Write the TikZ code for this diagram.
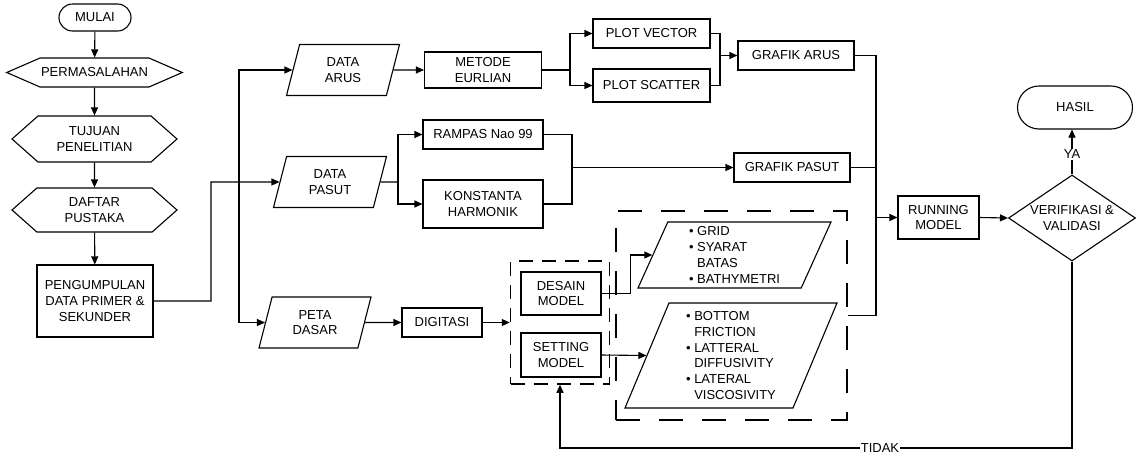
\documentclass[tikz,border=0pt]{standalone}
\usepackage{fontspec}
\setmainfont{Liberation Sans}
\usetikzlibrary{arrows.meta,shapes.geometric,shapes.misc,shapes.symbols}

\begin{document}
\begin{tikzpicture}[x=1pt,y=-1pt,line width=1.1pt,
  font=\fontsize{13}{15.8}\selectfont,
  every node/.style={align=center,inner sep=1pt},
  arr/.style={-{Triangle[length=8pt,width=7pt]}},
  proses/.style={draw,rectangle,minimum width=117pt,minimum height=29pt},
  terminal/.style={draw,rounded rectangle,minimum height=27pt},
  hexa/.style={draw,signal,signal to=west and east,signal pointer angle=83,
    minimum width=165pt,minimum height=46pt},
  dataio/.style={draw,trapezium,trapezium left angle=64,trapezium right angle=116,
    trapezium stretches body,minimum width=113pt,minimum height=51pt},
  keputusan/.style={draw,diamond,aspect=1.5,inner sep=0pt,minimum width=127pt,minimum height=86pt},
  putus/.style={draw,line width=1.5pt,dash pattern=on 14pt off 9pt},
  putusbesar/.style={draw,line width=1.5pt,dash pattern=on 24pt off 19pt}]
  \useasboundingbox (0,0) rectangle (1136,456);

  \node[terminal,minimum width=74pt] (mulai) at (95,17.5) {MULAI};
  \node[hexa,signal pointer angle=47,minimum width=175pt,minimum height=29pt] (masalah) at (94.5,72.5) {PERMASALAHAN};
  \node[hexa] (tujuan) at (94.5,139) {TUJUAN\\PENELITIAN};
  \node[hexa,minimum height=44pt] (pustaka) at (94.5,210) {DAFTAR\\PUSTAKA};
  \node[proses,minimum width=116pt,minimum height=72pt] (kumpul) at (95,301) {PENGUMPULAN\\DATA PRIMER \&\\SEKUNDER};

  \node[dataio] (arus) at (343,70) {DATA\\ARUS};
  \node[dataio] (pasut) at (330,182) {DATA\\PASUT};
  \node[dataio,minimum width=112pt] (peta) at (315,322.5) {PETA\\DASAR};

  \node[proses,minimum height=36pt] (eurlian) at (483,70) {METODE\\EURLIAN};
  \node[proses,minimum width=120pt] (rampas) at (483,134.5) {RAMPAS Nao 99};
  \node[proses,minimum width=120pt,minimum height=48pt] (konstanta) at (483,204) {KONSTANTA\\HARMONIK};
  \node[proses] (vector) at (651.5,33.5) {PLOT VECTOR};
  \node[proses,minimum height=33pt] (scatter) at (651.5,85.5) {PLOT SCATTER};
  \node[proses,minimum width=116pt] (gArus) at (796,55.5) {GRAFIK ARUS};
  \node[proses,minimum width=116pt] (gPasut) at (792,167.5) {GRAFIK PASUT};
  \node[proses,minimum width=80pt] (digitasi) at (442,322.5) {DIGITASI};

  \node[putus,minimum width=99pt,minimum height=123pt] (grup) at (560,322.5) {};
  \node[proses,minimum width=80pt,minimum height=43pt] (desain) at (561,293.5) {DESAIN\\MODEL};
  \node[proses,minimum width=80pt,minimum height=44pt] (setting) at (561,355) {SETTING\\MODEL};

  \node[putusbesar,minimum width=231pt,minimum height=209pt] (luar) at (731.5,315.5) {};
  \node[dataio,trapezium left angle=63,trapezium right angle=117,minimum width=193pt,
    minimum height=66pt,align=left] (grid) at (734.5,255)
    {\textbullet\ GRID\\\textbullet\ SYARAT\\\phantom{\textbullet\ }BATAS\\\textbullet\ BATHYMETRI};
  \node[dataio,minimum width=212pt,minimum height=105pt,align=left] (friksi) at (731,355.5)
    {\textbullet\ BOTTOM\\\phantom{\textbullet\ }FRICTION\\\textbullet\ LATTERAL\\
     \phantom{\textbullet\ }DIFFUSIVITY\\\textbullet\ LATERAL\\\phantom{\textbullet\ }VISCOSIVITY};

  \node[proses,minimum width=81pt,minimum height=43pt] (running) at (938.5,217.5) {RUNNING\\MODEL};
  \node[keputusan] (verif) at (1072,218) {VERIFIKASI \&\\VALIDASI};
  \node[terminal,minimum width=117pt,minimum height=43pt] (hasil) at (1075,107.5) {HASIL};

  \draw[arr] (mulai) -- (masalah);
  \draw[arr] (masalah) -- (tujuan);
  \draw[arr] (tujuan) -- (pustaka);
  \draw[arr] (pustaka) -- (kumpul);

  \coordinate (ja) at (211,182);
  \coordinate (jb) at (239,182);
  \draw[arr] (kumpul.east) -| (ja) -- (pasut.west);
  \draw[arr] (jb) |- (arus.west);
  \draw[arr] (jb) |- (peta.west);

  \draw[arr] (arus.east) -- (eurlian.west);
  \coordinate (jc) at (570,70);
  \draw (eurlian.east) -- (jc);
  \draw[arr] (jc) |- (vector.west);
  \draw[arr] (jc) |- (scatter.west);
  \coordinate (jd) at (720,55.5);
  \draw (vector.east) -| (jd) |- (scatter.east);
  \draw[arr] (jd) -- (gArus.west);

  \coordinate (je) at (398,182);
  \draw (pasut.east) -- (je);
  \draw[arr] (je) |- (rampas.west);
  \draw[arr] (je) |- (konstanta.west);
  \coordinate (jf) at (572,167.5);
  \draw (rampas.east) -| (jf) |- (konstanta.east);
  \draw[arr] (jf) -- (gPasut.west);

  \draw[arr] (peta.east) -- (digitasi.west);
  \draw[arr] (digitasi.east) -- (grup.west);
  \draw[arr] (desain.east) -- ++(29,0) |- (grid.west);
  \draw[arr] (setting.east) -- (friksi.west);

  \coordinate (jg) at (876,217.5);
  \draw (gArus.east) -| (jg);
  \draw (gPasut.east) -- (gPasut.east -| jg);
  \draw (luar.east) -| (jg);
  \draw[arr] (jg) -- (running.west);
  \draw[arr] (running.east) -- (verif.west);
  \draw[arr] (verif.north) -- node[pos=0.45,fill=white]{YA} (verif.north |- hasil.south);

  \coordinate (tidaka) at (1072,448);
  \coordinate (tidakb) at (560,448);
  \draw[arr] (verif.south) -- (tidaka) -- node[pos=0.375,fill=white]{TIDAK} (tidakb) -- (grup.south);
\end{tikzpicture}
\end{document}
